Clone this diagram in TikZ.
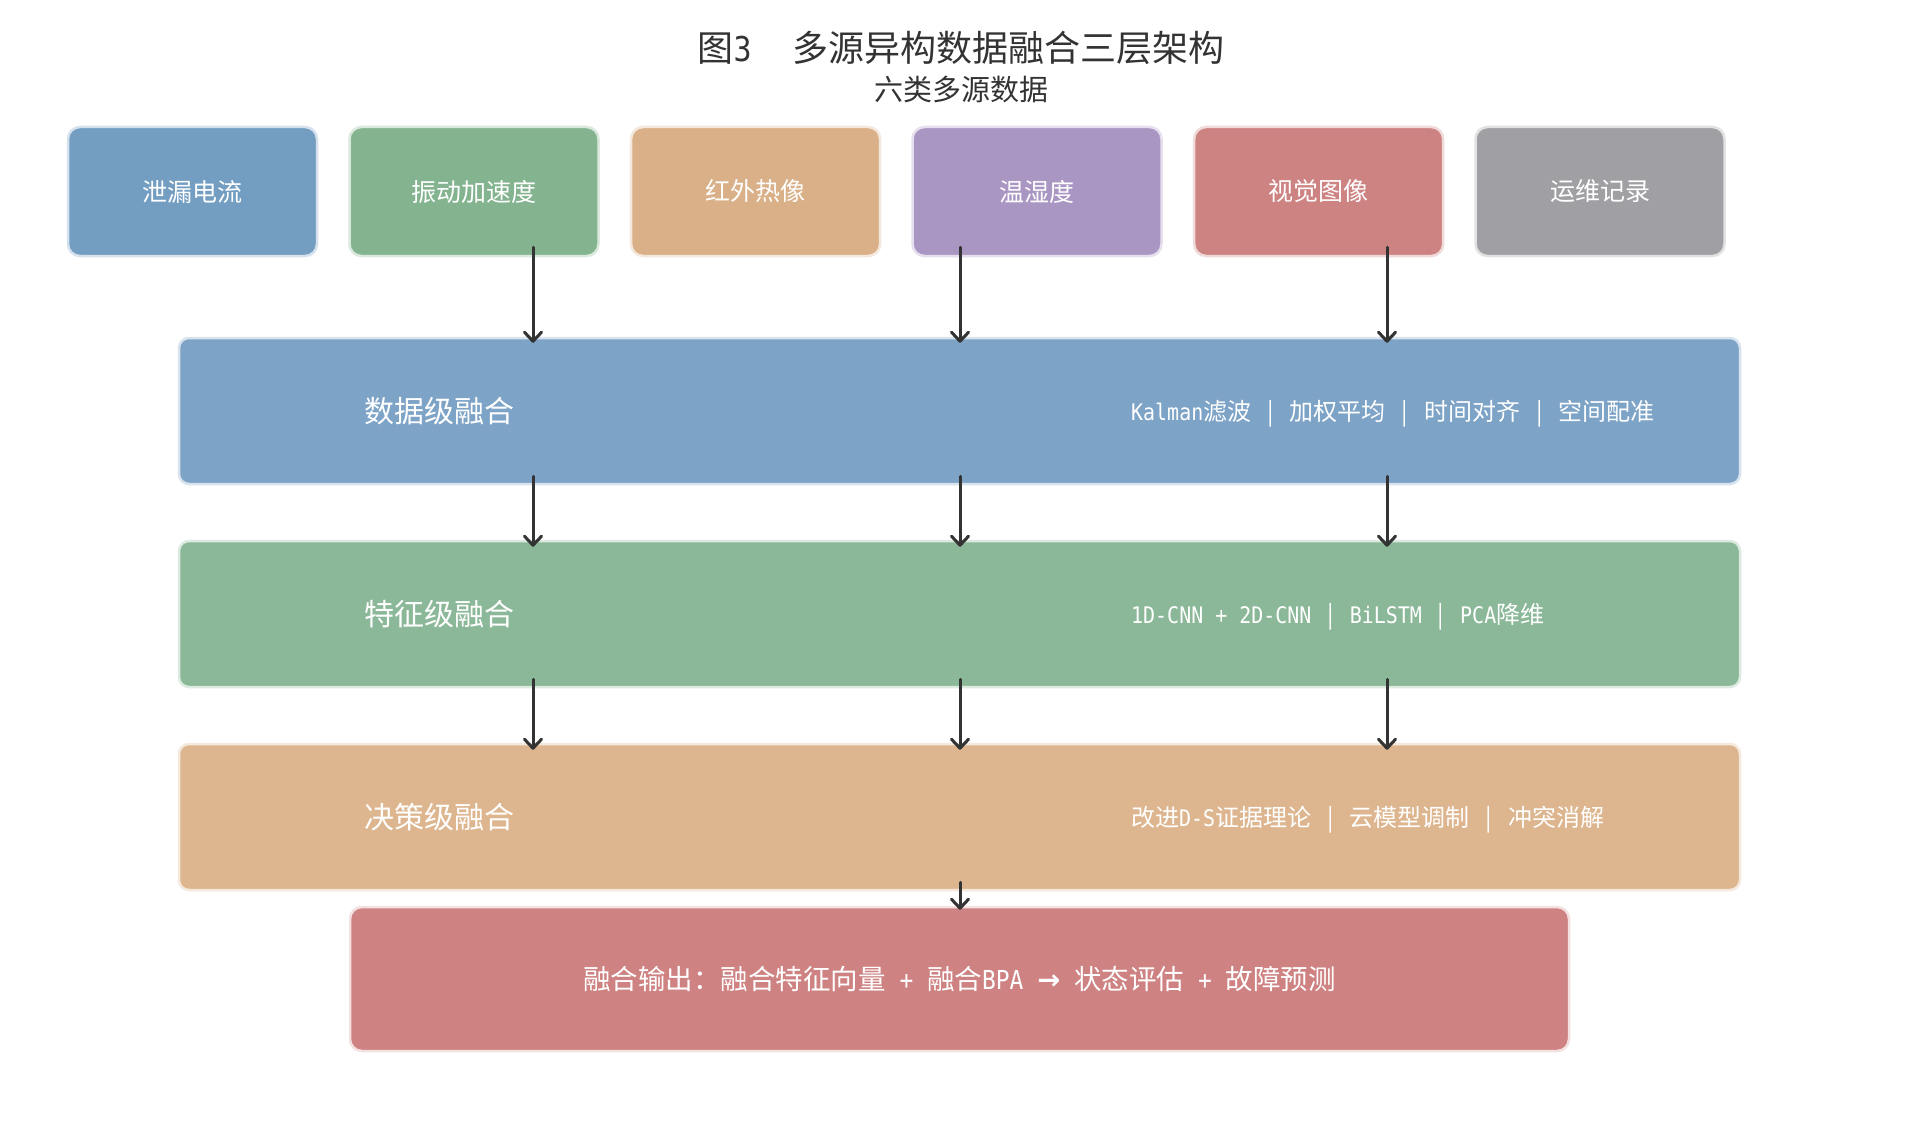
\documentclass[tikz,border=0pt]{standalone}
\usepackage{fontspec}
\setmainfont{Noto Sans CJK SC}
\newfontfamily\mono[Scale=0.95,FakeStretch=0.875]{DejaVu Sans Mono}
\newfontfamily\djv{DejaVu Sans}
\usetikzlibrary{arrows.meta,calc}
\definecolor{titlegray}{HTML}{333333}
\definecolor{arrowgray}{HTML}{333333}
\definecolor{cA}{HTML}{739EC2}
\definecolor{cB}{HTML}{84B48F}
\definecolor{cC}{HTML}{D9B087}
\definecolor{cD}{HTML}{AA96C3}
\definecolor{cE}{HTML}{CE8383}
\definecolor{cF}{HTML}{A09FA3}
\definecolor{lA}{HTML}{7DA3C7}
\definecolor{lB}{HTML}{8BB898}
\definecolor{lC}{HTML}{DDB68F}
\definecolor{lD}{HTML}{CE8282}
\newcommand\sepbar{\hspace{0.55em}\makebox[0.5em]{|}\hspace{0.55em}}
\tikzset{
  srcbox/.style={rounded corners=12pt, minimum width=249pt, minimum height=129pt,
    line width=2.5pt, text=white, font=\fontsize{25}{30}\selectfont, inner sep=0pt,
    fill=#1, draw=#1!30!white},
  layerbox/.style={rounded corners=10pt, minimum width=1561pt, minimum height=146pt,
    line width=2.5pt, inner sep=0pt, fill=#1, draw=#1!30!white},
  outbox/.style={rounded corners=12pt, minimum width=1219pt, minimum height=144pt,
    line width=2.5pt, inner sep=0pt, fill=#1, draw=#1!25!white, text=white,
    font=\fontsize{27.5}{33}\selectfont},
  bigname/.style={text=white, inner sep=0pt, anchor=west, font=\fontsize{30}{36}\selectfont},
  methods/.style={text=white, inner sep=0pt, anchor=west, font=\fontsize{24}{29}\selectfont},
  arr/.style={draw=arrowgray, line width=3pt, line cap=round,
    -{Straight Barb[length=9pt,width=17pt,round]}},
}
\begin{document}
\begin{tikzpicture}[x=1pt,y=-1pt]
\fill[white] (0,0) rectangle (1920,1145);
\useasboundingbox (0,0) rectangle (1920,1145);

% titles
\node[text=titlegray, inner sep=0pt, font=\fontsize{36}{43}\selectfont] (title) at (961,48)
  {图{\mono 3}\hspace{41pt}多源异构数据融合三层架构};
\node[text=titlegray, inner sep=0pt, font=\fontsize{29}{35}\selectfont] (subtitle) at (961,89)
  {六类多源数据};

% source boxes
\node[srcbox=cA] (s1) at (192.5,191.5) {泄漏电流};
\node[srcbox=cB] (s2) at (474,191.5) {振动加速度};
\node[srcbox=cC] (s3) at (755.6,191.5) {红外热像};
\node[srcbox=cD] (s4) at (1037,191.5) {温湿度};
\node[srcbox=cE] (s5) at (1318.7,191.5) {视觉图像};
\node[srcbox=cF] (s6) at (1600,191.5) {运维记录};

% layers
\node[layerbox=lA] (L1) at (959.5,411) {};
\node[layerbox=lB] (L2) at (959.5,614) {};
\node[layerbox=lC] (L3) at (959.5,817) {};
\node[outbox=lD] (OUT) at (959.5,979)
  {融合输出：融合特征向量{\mono\ +\ }融合{\mono BPA\ }\makebox[0.85em]{\djv\bfseries →}{\mono\ }状态评估{\mono\ +\ }故障预测};

\node[bigname] (L1n) at (364,411) {数据级融合};
\node[bigname] (L2n) at (364,614) {特征级融合};
\node[bigname] (L3n) at (364,817) {决策级融合};

\node[methods] (L1m) at (1131,414) {{\mono Kalman}滤波\sepbar 加权平均\sepbar 时间对齐\sepbar 空间配准};
\node[methods] (L2m) at (1131,617) {{\mono 1D-CNN + 2D-CNN}\sepbar{\mono BiLSTM}\sepbar{\mono PCA}降维};
\node[methods] (L3m) at (1131,820) {改进{\mono D-S}证据理论\sepbar 云模型调制\sepbar 冲突消解};

% arrow columns
\coordinate (c1) at (533,0);
\coordinate (c2) at (960,0);
\coordinate (c3) at (1387,0);

% arrows from sources
\draw[arr] ($(s2.south -| c1)+(0,-10)$) -- ($(L1.north -| c1)+(0,6)$);
\draw[arr] ($(s4.south -| c2)+(0,-10)$) -- ($(L1.north -| c2)+(0,6)$);
\draw[arr] ($(s5.south -| c3)+(0,-10)$) -- ($(L1.north -| c3)+(0,6)$);

% arrows between layers
\foreach \c in {c1,c2,c3}{
  \draw[arr] ($(L1.south -| \c)+(0,-9)$) -- ($(L2.north -| \c)+(0,7)$);
  \draw[arr] ($(L2.south -| \c)+(0,-9)$) -- ($(L3.north -| \c)+(0,7)$);
}
\draw[arr] ($(L3.south -| c2)+(0,-9)$) -- ($(OUT.north -| c2)+(0,4)$);
\end{tikzpicture}
\end{document}
